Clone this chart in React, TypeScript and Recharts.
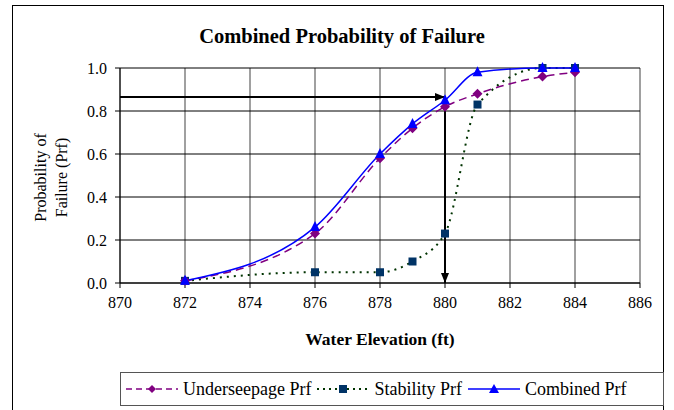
import React from "react";
import {
  LineChart,
  Line,
  XAxis,
  YAxis,
  CartesianGrid,
  ReferenceLine,
  ReferenceDot,
  Label,
} from "recharts";

// water elevations (ft)
const elevations = [872, 876, 878, 879, 880, 881, 883, 884];
const underseepage = [0.01, 0.23, 0.58, 0.72, 0.82, 0.88, 0.96, 0.98];
const stability = [0.01, 0.05, 0.05, 0.1, 0.23, 0.83, 1.0, 1.0];
const combined = [0.01, 0.26, 0.6, 0.74, 0.85, 0.98, 1.0, 1.0];

const xTicks = [870, 872, 874, 876, 878, 880, 882, 884, 886];
const yTicks = [0, 0.2, 0.4, 0.6, 0.8, 1.0];

// design elevation marked with arrows
const markElevation = 880;
const markProb = 0.865;

const FONT = "'Liberation Serif', 'Times New Roman', serif";

const PURPLE = "#800080";
const GREEN = "#003300";
const NAVY = "#003366";
const BLUE = "#0000ff";

const data = elevations.map((x, i) => ({
  x,
  under: underseepage[i],
  stab: stability[i],
  comb: combined[i],
}));

const Diamond = (props: any) => {
  const { cx, cy, index } = props;
  if (cx == null || cy == null) return <g key={index} />;
  return (
    <path
      key={index}
      d={`M${cx},${cy - 5} L${cx + 5},${cy} L${cx},${cy + 5} L${cx - 5},${cy} Z`}
      fill={PURPLE}
    />
  );
};

const Square = (props: any) => {
  const { cx, cy, index } = props;
  if (cx == null || cy == null) return <g key={index} />;
  return <rect key={index} x={cx - 4} y={cy - 4} width={8} height={8} fill={NAVY} />;
};

const Triangle = (props: any) => {
  const { cx, cy, index } = props;
  if (cx == null || cy == null) return <g key={index} />;
  return (
    <path
      key={index}
      d={`M${cx},${cy - 6} L${cx + 5},${cy + 4} L${cx - 5},${cy + 4} Z`}
      fill={BLUE}
    />
  );
};

const legendItems = [
  { label: "Underseepage Prf", color: PURPLE, dash: "6 4", marker: "diamond" },
  { label: "Stability Prf", color: GREEN, dash: "2 4", marker: "square" },
  { label: "Combined Prf", color: BLUE, dash: "", marker: "triangle" },
];

const LegendBox = () => (
  <div
    style={{
      position: "absolute",
      left: 120,
      top: 372,
      width: 544,
      height: 34,
      border: "1px solid #555",
      boxSizing: "border-box",
      display: "flex",
      alignItems: "center",
      fontFamily: FONT,
      fontSize: 18,
      color: "#000",
      paddingLeft: 4,
      background: "#fff",
    }}
  >
    {legendItems.map((it) => (
      <div key={it.label} style={{ display: "flex", alignItems: "center", marginRight: 5 }}>
        <svg width={54} height={12}>
          <line
            x1={1}
            y1={6}
            x2={53}
            y2={6}
            stroke={it.color}
            strokeWidth={it.marker === "square" ? 2 : 1.5}
            strokeDasharray={it.dash}
          />
          {it.marker === "diamond" && <path d="M27,2 L31,6 L27,10 L23,6 Z" fill={PURPLE} />}
          {it.marker === "square" && <rect x={23} y={2} width={8} height={8} fill={NAVY} />}
          {it.marker === "triangle" && <path d="M27,1 L32,10 L22,10 Z" fill={BLUE} />}
        </svg>
        <span style={{ marginLeft: 4 }}>{it.label}</span>
      </div>
    ))}
  </div>
);

export default function App() {
  return (
    <div
      style={{
        position: "absolute",
        left: 0,
        top: 0,
        width: 674,
        height: 410,
        overflow: "hidden",
        background: "#fff",
      }}
    >
      <div
        style={{
          position: "absolute",
          left: 12,
          top: 5,
          width: 652,
          height: 420,
          border: "1px solid #000",
          boxSizing: "border-box",
        }}
      />
      <div
        style={{
          position: "absolute",
          left: 0,
          top: 25,
          width: 684,
          textAlign: "center",
          fontFamily: FONT,
          fontWeight: "bold",
          fontSize: 20.5,
        }}
      >
        Combined Probability of Failure
      </div>
      <div style={{ position: "absolute", left: 0, top: 0 }}>
        <LineChart
          width={674}
          height={410}
          data={data}
          margin={{ top: 68, right: 34, bottom: 67, left: 40 }}
        >
          <CartesianGrid horizontal={false} stroke="#808080" strokeWidth={1.5} />
          <CartesianGrid vertical={false} stroke="#000" />
          <XAxis
            dataKey="x"
            type="number"
            domain={[870, 886]}
            ticks={xTicks}
            interval={0}
            height={60}
            stroke="#000"
            tickSize={5}
            tick={{ fill: "#000", fontFamily: FONT, fontSize: 16, dy: 7 }}
          >
            <Label
              value="Water Elevation (ft)"
              position="insideBottom"
              offset={-2}
              style={{ fill: "#000", fontFamily: FONT, fontSize: 17.5, fontWeight: "bold" }}
            />
          </XAxis>
          <YAxis
            type="number"
            domain={[0, 1]}
            ticks={yTicks}
            interval={0}
            width={80}
            stroke="#000"
            tickSize={5}
            tickFormatter={(v: number) => v.toFixed(1)}
            tick={{ fill: "#000", fontFamily: FONT, fontSize: 16, dx: -6 }}
          >
            <Label
              content={(p: any) => {
                const vb = p.viewBox || {};
                const cy = vb.y + vb.height / 2 + 2;
                return (
                  <g>
                    <text
                      x={46}
                      y={cy}
                      transform={`rotate(-90, 46, ${cy})`}
                      textAnchor="middle"
                      style={{ fill: "#000", fontFamily: FONT, fontSize: 16 }}
                    >
                      Probability of
                    </text>
                    <text
                      x={67}
                      y={cy}
                      transform={`rotate(-90, 67, ${cy})`}
                      textAnchor="middle"
                      style={{ fill: "#000", fontFamily: FONT, fontSize: 16 }}
                    >
                      Failure (Prf)
                    </text>
                  </g>
                );
              }}
            />
          </YAxis>
          <ReferenceLine
            segment={[
              { x: 870, y: markProb },
              { x: markElevation, y: markProb },
            ]}
            stroke="#000"
            strokeWidth={2}
            ifOverflow="visible"
          />
          <ReferenceLine
            segment={[
              { x: markElevation, y: markProb },
              { x: markElevation, y: 0 },
            ]}
            stroke="#000"
            strokeWidth={2}
            ifOverflow="visible"
          />
          <ReferenceDot
            x={markElevation}
            y={markProb}
            ifOverflow="visible"
            shape={(p: any) => (
              <path d={`M${p.cx},${p.cy} L${p.cx - 10},${p.cy - 4} L${p.cx - 10},${p.cy + 4} Z`} fill="#000" />
            )}
          />
          <ReferenceDot
            x={markElevation}
            y={0}
            ifOverflow="visible"
            shape={(p: any) => (
              <path d={`M${p.cx},${p.cy} L${p.cx - 4},${p.cy - 10} L${p.cx + 4},${p.cy - 10} Z`} fill="#000" />
            )}
          />
          <Line
            type="monotone"
            dataKey="stab"
            name="Stability Prf"
            stroke={GREEN}
            strokeWidth={2}
            strokeDasharray="2 5"
            dot={Square}
            isAnimationActive={false}
          />
          <Line
            type="monotone"
            dataKey="under"
            name="Underseepage Prf"
            stroke={PURPLE}
            strokeWidth={1.5}
            strokeDasharray="8 5"
            dot={Diamond}
            isAnimationActive={false}
          />
          <Line
            type="monotone"
            dataKey="comb"
            name="Combined Prf"
            stroke={BLUE}
            strokeWidth={1.5}
            dot={Triangle}
            isAnimationActive={false}
          />
        </LineChart>
      </div>
      <LegendBox />
    </div>
  );
}
